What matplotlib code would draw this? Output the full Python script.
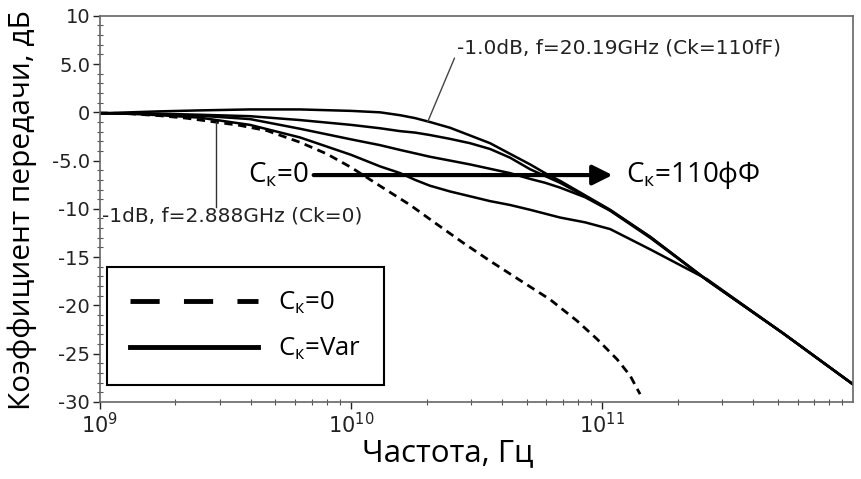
import matplotlib
matplotlib.use("Agg")
import matplotlib.pyplot as plt
from matplotlib.lines import Line2D
import numpy as np

plt.rcParams['mathtext.fontset'] = 'custom'
plt.rcParams['mathtext.rm'] = 'Open Sans'
plt.rcParams['mathtext.it'] = 'Open Sans:italic'

# frequency grid for the Ck = var family, GHz
f_var = [1.0, 1.32, 1.73, 2.50, 3.96, 6.26, 10.0, 13.05, 15.7, 18.0, 20.6, 24.8,
         29.8, 35.8, 43.0, 51.7, 59.3, 68.0, 85.6, 107.7, 155.4, 262, 526, 1000]
# four curves, Ck from 110 fF (top) down to the smallest value (bottom)
ck_110 = [-0.1, 0.0, 0.1, 0.2, 0.3, 0.3, 0.15, 0.0, -0.3, -0.6, -1.0, -1.6,
          -2.4, -3.2, -4.3, -5.4, -6.3, -7.1, -8.6, -10.1, -12.9, -17.4, -22.9, -28.2]
ck_b = [-0.1, -0.1, -0.15, -0.25, -0.4, -0.8, -1.3, -1.65, -1.95, -2.1, -2.35, -2.75,
        -3.2, -3.8, -4.7, -5.9, -6.6, -7.3, -8.7, -10.15, -12.9, -17.4, -22.9, -28.2]
ck_c = [-0.1, -0.12, -0.2, -0.35, -0.7, -1.7, -2.8, -3.4, -3.9, -4.25, -4.6, -5.0,
        -5.4, -5.85, -6.3, -6.9, -7.3, -7.8, -8.8, -10.2, -13.0, -17.4, -22.9, -28.2]
ck_d = [-0.1, -0.15, -0.3, -0.55, -1.3, -2.6, -4.4, -5.6, -6.3, -7.0, -7.6, -8.2,
        -8.7, -9.2, -9.6, -10.1, -10.5, -10.9, -11.4, -12.1, -14.2, -17.3, -22.9, -28.2]

# Ck = 0 (dashed)
f_zero = [1.0, 1.32, 1.73, 2.2, 2.87, 3.6, 4.63, 6.26, 8.0, 10.0, 13.0, 17.2, 22.0,
          27.9, 35.8, 45.8, 62.1, 79.4, 95.5, 114.8, 129.4, 141.6]
ck_zero = [-0.05, -0.15, -0.35, -0.6, -1.0, -1.35, -1.9, -3.1, -4.3, -5.7, -7.6, -9.6,
           -11.6, -13.5, -15.4, -17.2, -19.4, -21.6, -23.5, -25.6, -27.3, -29.2]

yticks = [10, 5, 0, -5, -10, -15, -20, -25, -30]
ytick_labels = ['10', '5.0', '0', '-5.0', '-10', '-15', '-20', '-25', '-30']
xticks = [1e9, 1e10, 1e11]
xtick_labels = [r'$10^{9}$', r'$10^{10}$', r'$10^{11}$']

fig = plt.figure(figsize=(8.61, 4.79), dpi=100)
ax = fig.add_axes([0.116, 0.161, 0.875, 0.806])

ghz = lambda v: np.array(v) * 1e9
for ys in (ck_110, ck_b, ck_c, ck_d):
    ax.plot(ghz(f_var), ys, color='black', lw=1.8, solid_joinstyle='round')
ax.plot(ghz(f_zero), ck_zero, color='black', lw=2.0, dashes=(3, 2))

ax.set_xscale('log')
ax.set_xlim(1e9, 1e12)
ax.set_ylim(-30, 10)
ax.set_yticks(yticks)
ax.set_yticklabels(ytick_labels, fontsize=14)
ax.set_yticks(np.arange(-30, 11, 1), minor=True)
ax.set_xticks(xticks)
ax.set_xticklabels(xtick_labels, math_fontfamily='dejavusans', fontsize=15)
ax.tick_params(axis='both', which='major', colors='#222222',
               direction='out', length=5, width=1, pad=2)
ax.tick_params(axis='both', which='minor', direction='inout', length=4, width=0.8,
               colors='#555555')
ax.tick_params(axis='x', which='minor', labelbottom=False)
for sp in ax.spines.values():
    sp.set_color('#666666')
    sp.set_linewidth(1.2)

ax.set_ylabel('Коэффициент передачи, дБ', fontsize=21.5, family='Open Sans')
ax.yaxis.set_label_coords(-0.084, 0.497)
ax.set_xlabel('Частота, Гц', fontsize=22.5, family='Open Sans')
ax.xaxis.set_label_coords(0.462, -0.093)

# -1 dB markers
ax.plot([2.888e9, 2.888e9], [-1.0, -9.8], color='#333333', lw=1)
ax.text(1.02e9, -10.7, '-1dB, f=2.888GHz (Ck=0)', fontsize=14.5, va='center',
        color='#222222')
ax.annotate('-1.0dB, f=20.19GHz (Ck=110fF)', xy=(20.19e9, -1.0),
            xytext=(26.5e9, 6.7), fontsize=14.5, va='center', color='#222222',
            arrowprops=dict(arrowstyle='-', color='#444444', lw=1,
                            shrinkA=0, shrinkB=0, relpos=(0, 0.3)))

# arrow Ck = 0 -> 110 fF
ax.annotate('', xy=(1.10e11, -6.5), xytext=(7.1e9, -6.5),
            arrowprops=dict(arrowstyle='-|>', color='black', lw=3,
                            mutation_scale=30, shrinkA=0, shrinkB=0))
ax.text(6.8e9, -6.5, 'C$_\\mathrm{к}$=0', fontsize=20, family='Open Sans',
        ha='right', va='center')
ax.text(1.24e11, -6.5, 'C$_\\mathrm{к}$=110фФ', fontsize=20, family='Open Sans',
        ha='left', va='center')

handles = [Line2D([], [], color='black', lw=3.5, dashes=(6, 5)),
           Line2D([], [], color='black', lw=3.5)]
leg = ax.legend(handles, ['C$_\\mathrm{к}$=0', 'C$_\\mathrm{к}$=Var'],
                loc='lower left', bbox_to_anchor=(0.009, 0.044),
                prop={'family': 'Open Sans', 'size': 18.5},
                handlelength=5.0, handletextpad=0.75, borderpad=0.9,
                labelspacing=0.75, fancybox=False, framealpha=1,
                edgecolor='black', borderaxespad=0)
leg.get_frame().set_linewidth(1.5)

fig.savefig('out.png', dpi=100)
